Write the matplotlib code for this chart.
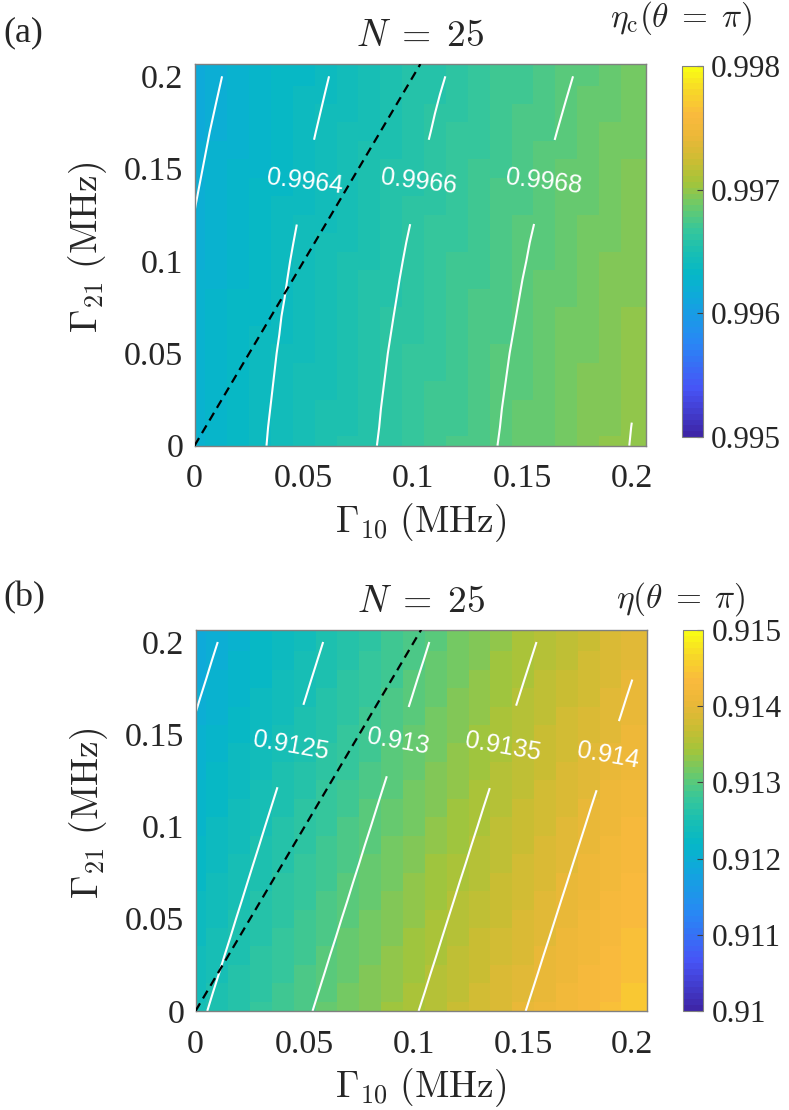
import numpy as np
import matplotlib.pyplot as plt
from matplotlib.colors import LinearSegmentedColormap

plt.rcParams['font.family'] = ['Liberation Serif', 'DejaVu Serif']
plt.rcParams['mathtext.fontset'] = 'cm'

# grid (MHz)
gamma10 = [0.00, 0.01, 0.02, 0.03, 0.04, 0.05, 0.06, 0.07, 0.08, 0.09, 0.10,
           0.11, 0.12, 0.13, 0.14, 0.15, 0.16, 0.17, 0.18, 0.19, 0.20]
gamma21 = [0.00, 0.01, 0.02, 0.03, 0.04, 0.05, 0.06, 0.07, 0.08, 0.09, 0.10,
           0.11, 0.12, 0.13, 0.14, 0.15, 0.16, 0.17, 0.18, 0.19, 0.20]

# (a) eta_c(theta=pi); rows = Gamma21 (bottom -> top), columns = Gamma10
eta_c = [
    [0.996261, 0.996304, 0.996346, 0.996388, 0.996429, 0.996469, 0.996509, 0.996548, 0.996587, 0.996625, 0.996662, 0.996699, 0.996735, 0.996770, 0.996805, 0.996839, 0.996872, 0.996905, 0.996937, 0.996969, 0.997004],
    [0.996258, 0.996301, 0.996343, 0.996385, 0.996426, 0.996466, 0.996506, 0.996545, 0.996583, 0.996621, 0.996659, 0.996695, 0.996731, 0.996767, 0.996801, 0.996836, 0.996869, 0.996902, 0.996934, 0.996966, 0.997001],
    [0.996254, 0.996297, 0.996339, 0.996381, 0.996422, 0.996463, 0.996502, 0.996541, 0.996580, 0.996618, 0.996655, 0.996692, 0.996728, 0.996763, 0.996798, 0.996832, 0.996866, 0.996898, 0.996931, 0.996962, 0.996997],
    [0.996250, 0.996293, 0.996336, 0.996377, 0.996418, 0.996459, 0.996499, 0.996538, 0.996576, 0.996614, 0.996651, 0.996688, 0.996724, 0.996759, 0.996794, 0.996828, 0.996862, 0.996895, 0.996927, 0.996958, 0.996989],
    [0.996246, 0.996289, 0.996332, 0.996373, 0.996414, 0.996455, 0.996495, 0.996534, 0.996572, 0.996610, 0.996647, 0.996684, 0.996720, 0.996755, 0.996790, 0.996824, 0.996858, 0.996891, 0.996923, 0.996954, 0.996985],
    [0.996242, 0.996285, 0.996327, 0.996369, 0.996410, 0.996450, 0.996490, 0.996529, 0.996568, 0.996606, 0.996643, 0.996680, 0.996716, 0.996751, 0.996786, 0.996820, 0.996853, 0.996886, 0.996918, 0.996950, 0.996981],
    [0.996237, 0.996280, 0.996323, 0.996364, 0.996405, 0.996446, 0.996486, 0.996525, 0.996563, 0.996601, 0.996638, 0.996675, 0.996711, 0.996746, 0.996781, 0.996815, 0.996849, 0.996882, 0.996914, 0.996945, 0.996976],
    [0.996233, 0.996275, 0.996318, 0.996359, 0.996401, 0.996441, 0.996481, 0.996520, 0.996558, 0.996596, 0.996634, 0.996670, 0.996706, 0.996742, 0.996776, 0.996810, 0.996844, 0.996877, 0.996909, 0.996941, 0.996972],
    [0.996227, 0.996270, 0.996313, 0.996354, 0.996395, 0.996436, 0.996476, 0.996515, 0.996553, 0.996591, 0.996628, 0.996665, 0.996701, 0.996736, 0.996771, 0.996805, 0.996839, 0.996872, 0.996904, 0.996935, 0.996966],
    [0.996222, 0.996265, 0.996307, 0.996349, 0.996390, 0.996431, 0.996470, 0.996509, 0.996548, 0.996586, 0.996623, 0.996660, 0.996696, 0.996731, 0.996766, 0.996800, 0.996834, 0.996866, 0.996899, 0.996930, 0.996961],
    [0.996217, 0.996259, 0.996302, 0.996343, 0.996385, 0.996425, 0.996465, 0.996504, 0.996542, 0.996580, 0.996618, 0.996654, 0.996690, 0.996726, 0.996760, 0.996794, 0.996828, 0.996861, 0.996893, 0.996925, 0.996956],
    [0.996211, 0.996254, 0.996296, 0.996338, 0.996379, 0.996419, 0.996459, 0.996498, 0.996536, 0.996574, 0.996612, 0.996648, 0.996684, 0.996720, 0.996754, 0.996789, 0.996822, 0.996855, 0.996887, 0.996919, 0.996950],
    [0.996204, 0.996247, 0.996290, 0.996331, 0.996372, 0.996413, 0.996453, 0.996492, 0.996530, 0.996568, 0.996605, 0.996642, 0.996678, 0.996713, 0.996748, 0.996782, 0.996816, 0.996849, 0.996881, 0.996912, 0.996943],
    [0.996198, 0.996241, 0.996283, 0.996325, 0.996366, 0.996406, 0.996446, 0.996485, 0.996524, 0.996562, 0.996599, 0.996636, 0.996672, 0.996707, 0.996742, 0.996776, 0.996809, 0.996842, 0.996874, 0.996906, 0.996937],
    [0.996191, 0.996234, 0.996277, 0.996318, 0.996359, 0.996400, 0.996440, 0.996479, 0.996517, 0.996555, 0.996592, 0.996629, 0.996665, 0.996700, 0.996735, 0.996769, 0.996803, 0.996836, 0.996868, 0.996899, 0.996930],
    [0.996184, 0.996227, 0.996270, 0.996311, 0.996352, 0.996393, 0.996433, 0.996472, 0.996510, 0.996548, 0.996585, 0.996622, 0.996658, 0.996693, 0.996728, 0.996762, 0.996796, 0.996829, 0.996861, 0.996892, 0.996923],
    [0.996177, 0.996220, 0.996262, 0.996304, 0.996345, 0.996386, 0.996425, 0.996464, 0.996503, 0.996541, 0.996578, 0.996615, 0.996651, 0.996686, 0.996721, 0.996755, 0.996789, 0.996821, 0.996854, 0.996885, 0.996916],
    [0.996170, 0.996213, 0.996255, 0.996297, 0.996338, 0.996378, 0.996418, 0.996457, 0.996496, 0.996533, 0.996571, 0.996607, 0.996643, 0.996679, 0.996714, 0.996748, 0.996781, 0.996814, 0.996846, 0.996878, 0.996909],
    [0.996162, 0.996205, 0.996247, 0.996289, 0.996330, 0.996370, 0.996410, 0.996449, 0.996488, 0.996526, 0.996563, 0.996600, 0.996636, 0.996671, 0.996706, 0.996740, 0.996773, 0.996806, 0.996838, 0.996870, 0.996901],
    [0.996154, 0.996197, 0.996239, 0.996281, 0.996322, 0.996362, 0.996402, 0.996441, 0.996480, 0.996518, 0.996555, 0.996592, 0.996628, 0.996663, 0.996698, 0.996732, 0.996765, 0.996798, 0.996830, 0.996862, 0.996893],
    [0.996146, 0.996189, 0.996231, 0.996273, 0.996314, 0.996354, 0.996394, 0.996433, 0.996472, 0.996509, 0.996547, 0.996583, 0.996619, 0.996655, 0.996690, 0.996724, 0.996757, 0.996790, 0.996822, 0.996854, 0.996885],
]

# (b) eta(theta=pi)
eta = [
    [0.912444, 0.912548, 0.912652, 0.912756, 0.912859, 0.912963, 0.913066, 0.913169, 0.913272, 0.913375, 0.913478, 0.913580, 0.913682, 0.913784, 0.913886, 0.913988, 0.914089, 0.914191, 0.914292, 0.914393, 0.914494],
    [0.912417, 0.912521, 0.912625, 0.912728, 0.912832, 0.912935, 0.913039, 0.913142, 0.913245, 0.913347, 0.913450, 0.913552, 0.913655, 0.913757, 0.913859, 0.913960, 0.914062, 0.914163, 0.914265, 0.914366, 0.914467],
    [0.912389, 0.912493, 0.912597, 0.912701, 0.912804, 0.912908, 0.913011, 0.913114, 0.913217, 0.913320, 0.913423, 0.913525, 0.913627, 0.913729, 0.913831, 0.913933, 0.914034, 0.914136, 0.914237, 0.914338, 0.914439],
    [0.912362, 0.912466, 0.912570, 0.912673, 0.912777, 0.912880, 0.912984, 0.913087, 0.913190, 0.913292, 0.913395, 0.913497, 0.913600, 0.913702, 0.913804, 0.913905, 0.914007, 0.914108, 0.914210, 0.914311, 0.914412],
    [0.912334, 0.912438, 0.912542, 0.912646, 0.912749, 0.912853, 0.912956, 0.913059, 0.913162, 0.913265, 0.913368, 0.913470, 0.913572, 0.913674, 0.913776, 0.913878, 0.913979, 0.914081, 0.914182, 0.914283, 0.914384],
    [0.912307, 0.912411, 0.912515, 0.912618, 0.912722, 0.912825, 0.912929, 0.913032, 0.913135, 0.913237, 0.913340, 0.913442, 0.913545, 0.913647, 0.913749, 0.913850, 0.913952, 0.914053, 0.914155, 0.914256, 0.914357],
    [0.912279, 0.912383, 0.912487, 0.912591, 0.912694, 0.912798, 0.912901, 0.913004, 0.913107, 0.913210, 0.913313, 0.913415, 0.913517, 0.913619, 0.913721, 0.913823, 0.913924, 0.914026, 0.914127, 0.914228, 0.914329],
    [0.912252, 0.912356, 0.912460, 0.912563, 0.912667, 0.912770, 0.912874, 0.912977, 0.913080, 0.913182, 0.913285, 0.913387, 0.913490, 0.913592, 0.913694, 0.913795, 0.913897, 0.913998, 0.914100, 0.914201, 0.914302],
    [0.912224, 0.912328, 0.912432, 0.912536, 0.912639, 0.912743, 0.912846, 0.912949, 0.913052, 0.913155, 0.913258, 0.913360, 0.913462, 0.913564, 0.913666, 0.913768, 0.913869, 0.913971, 0.914072, 0.914173, 0.914274],
    [0.912197, 0.912301, 0.912405, 0.912508, 0.912612, 0.912715, 0.912819, 0.912922, 0.913025, 0.913127, 0.913230, 0.913332, 0.913435, 0.913537, 0.913639, 0.913740, 0.913842, 0.913943, 0.914045, 0.914146, 0.914247],
    [0.912169, 0.912273, 0.912377, 0.912481, 0.912584, 0.912688, 0.912791, 0.912894, 0.912997, 0.913100, 0.913203, 0.913305, 0.913407, 0.913509, 0.913611, 0.913713, 0.913814, 0.913916, 0.914017, 0.914118, 0.914219],
    [0.912142, 0.912246, 0.912350, 0.912453, 0.912557, 0.912660, 0.912764, 0.912867, 0.912970, 0.913072, 0.913175, 0.913277, 0.913380, 0.913482, 0.913584, 0.913685, 0.913787, 0.913888, 0.913990, 0.914091, 0.914192],
    [0.912114, 0.912218, 0.912322, 0.912426, 0.912529, 0.912633, 0.912736, 0.912839, 0.912942, 0.913045, 0.913148, 0.913250, 0.913352, 0.913454, 0.913556, 0.913658, 0.913759, 0.913861, 0.913962, 0.914063, 0.914164],
    [0.912087, 0.912191, 0.912295, 0.912398, 0.912502, 0.912605, 0.912709, 0.912812, 0.912915, 0.913017, 0.913120, 0.913222, 0.913325, 0.913427, 0.913529, 0.913630, 0.913732, 0.913833, 0.913935, 0.914036, 0.914137],
    [0.912059, 0.912163, 0.912267, 0.912371, 0.912474, 0.912578, 0.912681, 0.912784, 0.912887, 0.912990, 0.913093, 0.913195, 0.913297, 0.913399, 0.913501, 0.913603, 0.913704, 0.913806, 0.913907, 0.914008, 0.914109],
    [0.912032, 0.912136, 0.912240, 0.912343, 0.912447, 0.912550, 0.912654, 0.912757, 0.912860, 0.912962, 0.913065, 0.913167, 0.913270, 0.913372, 0.913474, 0.913575, 0.913677, 0.913778, 0.913880, 0.913981, 0.914082],
    [0.912004, 0.912108, 0.912212, 0.912316, 0.912419, 0.912523, 0.912626, 0.912729, 0.912832, 0.912935, 0.913038, 0.913140, 0.913242, 0.913344, 0.913446, 0.913548, 0.913649, 0.913751, 0.913852, 0.913953, 0.914054],
    [0.911977, 0.912081, 0.912185, 0.912288, 0.912392, 0.912495, 0.912599, 0.912702, 0.912805, 0.912907, 0.913010, 0.913112, 0.913215, 0.913317, 0.913419, 0.913520, 0.913622, 0.913723, 0.913825, 0.913926, 0.914027],
    [0.911949, 0.912053, 0.912157, 0.912261, 0.912364, 0.912468, 0.912571, 0.912674, 0.912777, 0.912880, 0.912983, 0.913085, 0.913187, 0.913289, 0.913391, 0.913493, 0.913594, 0.913696, 0.913797, 0.913898, 0.913999],
    [0.911922, 0.912026, 0.912130, 0.912233, 0.912337, 0.912440, 0.912544, 0.912647, 0.912750, 0.912852, 0.912955, 0.913057, 0.913160, 0.913262, 0.913364, 0.913465, 0.913567, 0.913668, 0.913770, 0.913871, 0.913972],
    [0.911894, 0.911998, 0.912102, 0.912206, 0.912309, 0.912413, 0.912516, 0.912619, 0.912722, 0.912825, 0.912928, 0.913030, 0.913132, 0.913234, 0.913336, 0.913438, 0.913539, 0.913641, 0.913742, 0.913843, 0.913944],
]

levels_a = [0.9962, 0.9964, 0.9966, 0.9968, 0.9970]
labelpos_a = [(0.0495, 0.143), (0.1021, 0.143), (0.1593, 0.143)]
levels_b = [0.912, 0.9125, 0.913, 0.9135, 0.914]
labelpos_b = [(0.0443, 0.1433), (0.0926, 0.146), (0.1404, 0.1433), (0.1877, 0.1388)]

# dashed line Gamma21 = 2 Gamma10
diag_g10 = [0.0, 0.1033]
diag_g21 = [0.0, 0.2066]

cticks_a = [0.995, 0.996, 0.997, 0.998]
cticks_b = [0.910, 0.911, 0.912, 0.913, 0.914, 0.915]
cticklabels_a = ['0.995', '0.996', '0.997', '0.998']
cticklabels_b = ['0.91', '0.911', '0.912', '0.913', '0.914', '0.915']
xticks = [0, 0.05, 0.1, 0.15, 0.2]
xticklabels = ['0', '0.05', '0.1', '0.15', '0.2']

# parula-like colormap
parula = LinearSegmentedColormap.from_list('parula', [
    (0.000, (0.2422, 0.1504, 0.6603)),
    (0.125, (0.2780, 0.3300, 0.9650)),
    (0.250, (0.1600, 0.5300, 0.9600)),
    (0.375, (0.0600, 0.6600, 0.8600)),
    (0.4375, (0.0200, 0.7200, 0.7800)),
    (0.500, (0.1000, 0.7500, 0.7000)),
    (0.5625, (0.2200, 0.7800, 0.6000)),
    (0.625, (0.4200, 0.7900, 0.4200)),
    (0.6875, (0.6400, 0.7700, 0.2300)),
    (0.750, (0.8000, 0.7400, 0.2000)),
    (0.8125, (0.9200, 0.7200, 0.2200)),
    (0.875, (0.9800, 0.7300, 0.2400)),
    (0.9375, (0.9700, 0.8400, 0.1600)),
    (1.000, (0.9769, 0.9839, 0.0805)),
], N=64)

W, H = 789, 1110
LIM = 0.2065
TXT = '#262626'

fig = plt.figure(figsize=(W / 100, H / 100), dpi=100)


def draw_panel(ax, cax, z, vmin, vmax, levels, labelpos, rot,
               cticks, cticklabels):
    g10 = np.array(gamma10)
    g21 = np.array(gamma21)
    xe = np.concatenate(([0.0], (g10[:-1] + g10[1:]) / 2, [LIM]))
    ye = np.concatenate(([0.0], (g21[:-1] + g21[1:]) / 2, [LIM]))
    z = np.array(z)
    mesh = ax.pcolormesh(xe, ye, z, cmap=parula, vmin=vmin, vmax=vmax,
                         shading='flat')
    ax.set_xlim(0, LIM)
    ax.set_ylim(0, LIM)
    cs = ax.contour(g10, g21, z, levels=levels, colors='white',
                    linewidths=1.5)
    with plt.rc_context({'font.family': ['Liberation Sans']}):
        txts = ax.clabel(cs, manual=labelpos, inline=True,
                         inline_spacing=5, fmt=lambda v: f'{v:g}',
                         fontsize=18)
    for t in txts:
        t.set_rotation(rot)
    ax.plot(diag_g10, diag_g21, color='k', lw=1.6, dashes=(4, 2.6), zorder=5)

    ax.set_xticks(xticks, xticklabels)
    ax.set_yticks(xticks, xticklabels)
    ax.tick_params(axis='both', length=0, labelsize=24.5, labelcolor=TXT)
    ax.tick_params(axis='x', pad=13)
    ax.tick_params(axis='y', pad=8)
    for sp in ax.spines.values():
        sp.set_edgecolor('#808080')
        sp.set_linewidth(1.0)
    ax.set_xlabel(r'$\Gamma_{10}\ (\mathrm{MHz})$', fontsize=27, color=TXT)
    ax.xaxis.set_label_coords(0.5, -0.145)
    ax.set_ylabel(r'$\Gamma_{21}\ (\mathrm{MHz})$', fontsize=27, color=TXT)
    ax.yaxis.set_label_coords(-0.19, 0.52)
    ax.set_title(r'$N\;=\;25$', fontsize=27, pad=13, color=TXT)

    cb = fig.colorbar(mesh, cax=cax, ticks=cticks)
    cb.set_ticklabels(cticklabels)
    cb.outline.set_edgecolor('#808080')
    cb.outline.set_linewidth(0.8)
    cax.tick_params(direction='in', length=4, width=0.8, color='#404040',
                    labelsize=22.5, labelcolor=TXT, pad=6)


ax_a = fig.add_axes([194.5 / W, 1 - 445.7 / H, 451.5 / W, 381.4 / H])
cax_a = fig.add_axes([681.7 / W, 1 - 437 / H, 21 / W, 371 / H])
ax_b = fig.add_axes([195.5 / W, 1 - 1011 / H, 451 / W, 381 / H])
cax_b = fig.add_axes([682.7 / W, 1 - 1011 / H, 20.6 / W, 381 / H])

draw_panel(ax_a, cax_a, eta_c, 0.995, 0.998, levels_a, labelpos_a,
           -7, cticks_a, cticklabels_a)
draw_panel(ax_b, cax_b, eta, 0.910, 0.915, levels_b, labelpos_b,
           -10, cticks_b, cticklabels_b)

fig.text(3 / W, 1 - 33 / H, '(a)', fontsize=26, va='center', color=TXT)
fig.text(3 / W, 1 - 598 / H, '(b)', fontsize=26, va='center', color=TXT)
fig.text(752 / W, 1 - 27 / H, r'$\eta_{\mathrm{c}}(\theta\;=\;\pi)$',
         fontsize=24, ha='right', va='baseline', color=TXT)
fig.text(746 / W, 1 - 608 / H, r'$\eta(\theta\;=\;\pi)$', fontsize=24,
         ha='right', va='baseline', color=TXT)

fig.savefig('out.png', dpi=100, facecolor='white')
